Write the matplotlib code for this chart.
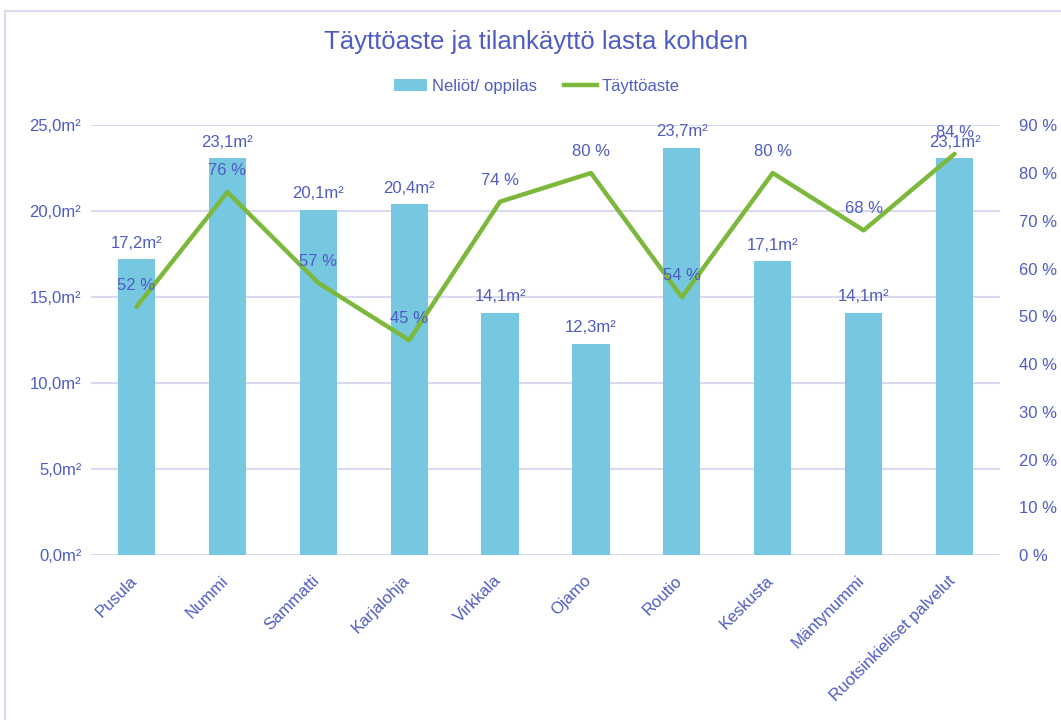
import matplotlib
matplotlib.use("Agg")
import matplotlib.pyplot as plt
from matplotlib.ticker import FuncFormatter, MultipleLocator
from matplotlib.lines import Line2D
from matplotlib.patches import Patch
from matplotlib.transforms import ScaledTranslation
import numpy as np

categories = ["Pusula", "Nummi", "Sammatti", "Karjalohja", "Virkkala", "Ojamo",
              "Routio", "Keskusta", "Mäntynummi", "Ruotsinkieliset palvelut"]
area_per_pupil = [17.2, 23.1, 20.1, 20.4, 14.1, 12.3, 23.7, 17.1, 14.1, 23.1]
occupancy_pct = [52, 76, 57, 45, 74, 80, 54, 80, 68, 84]

bar_name = "Neliöt/ oppilas"
line_name = "Täyttöaste"
title = "Täyttöaste ja tilankäyttö lasta kohden"

TXT = "#4F5CC4"
BAR = "#75C8E0"
LINE = "#7BB83C"
GRID = "#D9DAF2"

plt.rcParams['font.family'] = ['Liberation Sans', 'DejaVu Sans']

fig = plt.figure(figsize=(10.61, 7.2), dpi=100)
ax = fig.add_axes([0.0858, 0.229, 0.8567, 0.597])
ax2 = ax.twinx()

x = np.arange(len(categories))
ax.bar(x, area_per_pupil, width=0.41, color=BAR, zorder=2)
ax.set_ylim(0, 25)
ax.set_xlim(-0.5, len(categories) - 0.5)
ax.yaxis.set_major_locator(MultipleLocator(5))
ax.yaxis.set_major_formatter(FuncFormatter(lambda v, p: f"{v:.1f}".replace(".", ",") + "m²"))
ax.grid(axis='y', color=GRID, linewidth=1.5, zorder=0)
ax.set_axisbelow(True)

ax2.plot(x, occupancy_pct, color=LINE, linewidth=3.2, solid_capstyle='round', zorder=3)
ax2.set_ylim(0, 90)
ax2.yaxis.set_major_locator(MultipleLocator(10))
ax2.yaxis.set_major_formatter(FuncFormatter(lambda v, p: f"{int(round(v))} %"))

for a in (ax, ax2):
    for s in a.spines.values():
        s.set_visible(False)
    a.tick_params(axis='both', length=0, labelcolor=TXT, labelsize=12)
ax.tick_params(axis='y', pad=7)
ax2.tick_params(axis='y', pad=14)

ax.set_xticks(x)
ax.set_xticklabels(categories, rotation=45, ha='right', rotation_mode='anchor', fontsize=12, color=TXT)
ax.tick_params(axis='x', pad=12)
shift = ScaledTranslation(-7 / 100, -1 / 100, fig.dpi_scale_trans)
for lbl in ax.get_xticklabels():
    lbl.set_transform(lbl.get_transform() + shift)

for xi, v in zip(x, area_per_pupil):
    ax.annotate(f"{v:.1f}".replace(".", ",") + "m²", (xi, v), xytext=(0, 6),
                textcoords='offset points', ha='center', va='bottom', color=TXT, fontsize=12, zorder=5)
for xi, v in zip(x, occupancy_pct):
    ax2.annotate(f"{v} %", (xi, v), xytext=(0, 10), textcoords='offset points',
                 ha='center', va='bottom', color=TXT, fontsize=12, zorder=5)

fig.text(0.505, 0.942, title, ha='center', va='center', color=TXT, fontsize=18.5)

handles = [Patch(facecolor=BAR, edgecolor='none'),
           Line2D([0], [0], color=LINE, linewidth=3.2)]
fig.legend(handles, [bar_name, line_name], loc='center', bbox_to_anchor=(0.506, 0.88), ncol=2,
           frameon=False, fontsize=12, labelcolor=TXT, handlelength=2.0, handletextpad=0.3,
           columnspacing=1.6)

fig.add_artist(Line2D([0.005, 0.005], [0, 0.985], color=GRID, linewidth=1.5, transform=fig.transFigure))
fig.add_artist(Line2D([0.005, 1], [0.985, 0.985], color=GRID, linewidth=1.5, transform=fig.transFigure))

fig.savefig("out.png", dpi=100, facecolor='white')
